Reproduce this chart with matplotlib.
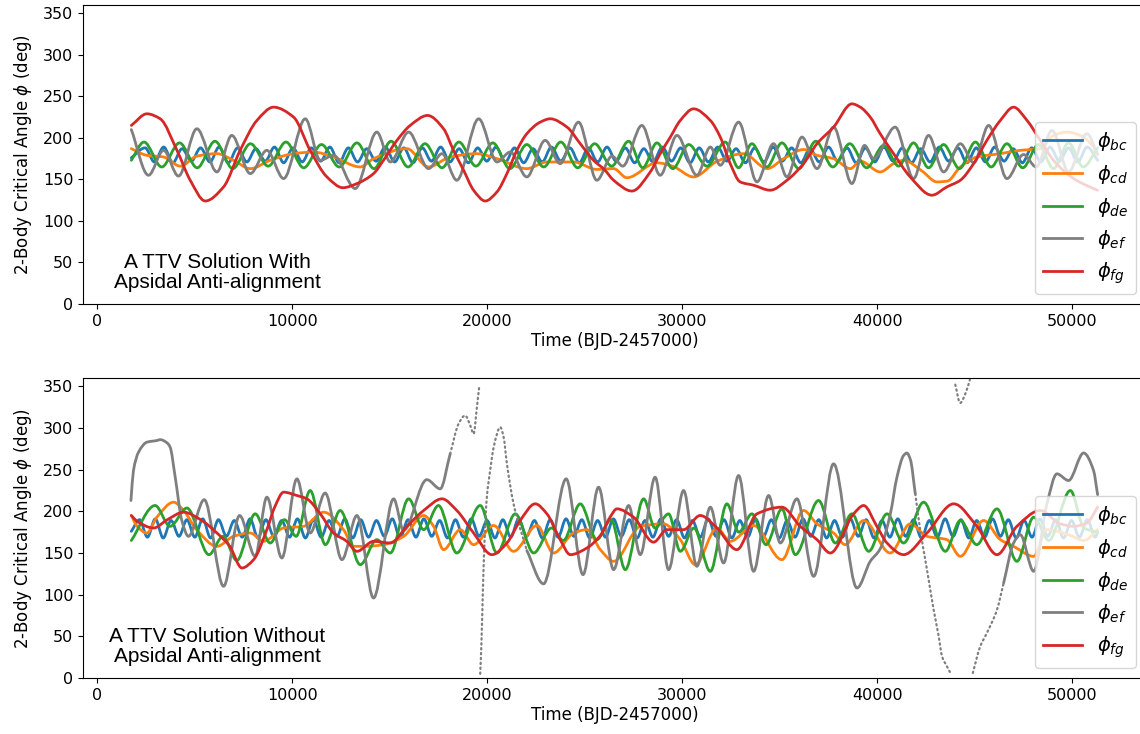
import numpy as np
import matplotlib.pyplot as plt
from matplotlib.path import Path
from matplotlib.patches import PathPatch
from matplotlib.lines import Line2D

# ---------------- TOP PANEL (with apsidal anti-alignment) ----------------
top_t_bc = [1750,
    2460, 2930, 3410, 3880, 4350, 4830, 5300, 5780, 6250, 6720,
    7200, 7670, 8140, 8620, 9090, 9560, 10040, 10510, 10980, 11460,
    11930, 12400, 12880, 13350, 13820, 14300, 14770, 15250, 15720, 16190,
    16670, 17140, 17610, 18090, 18560, 19030, 19510, 19980, 20450, 20930,
    21400, 21870, 22350, 22820, 23290, 23770, 24240, 24720, 25190, 25660,
    26140, 26610, 27080, 27560, 28030, 28500, 28980, 29450, 29920, 30400,
    30870, 31340, 31820, 32290, 32760, 33240, 33710, 34190, 34660, 35130,
    35610, 36080, 36550, 37030, 37500, 37970, 38450, 38920, 39390, 39870,
    40340, 40810, 41290, 41760, 42230, 42710, 43180, 43660, 44130, 44600,
    45080, 45550, 46020, 46500, 46970, 47440, 47920, 48390, 48860, 49340,
    49810, 50280, 50760, 51300]
top_bc = [176,
    188, 171, 189, 170, 187, 172, 188, 171, 189, 170,
    188, 171, 187, 172, 189, 170, 188, 171, 188, 172,
    189, 170, 188, 171, 187, 172, 189, 171, 188, 170,
    188, 172, 189, 171, 187, 170, 188, 172, 189, 171,
    188, 170, 187, 171, 189, 172, 188, 170, 188, 171,
    189, 172, 188, 170, 187, 171, 189, 172, 188, 170,
    188, 171, 189, 172, 187, 170, 188, 171, 189, 172,
    188, 170, 187, 171, 189, 172, 188, 170, 188, 171,
    189, 172, 188, 170, 187, 171, 189, 172, 188, 170,
    188, 171, 189, 172, 187, 170, 188, 171, 189, 172,
    188, 171, 189, 173]

top_t_cd = [1750, 2550, 3400, 4260, 5110, 6140, 6990, 7850, 8870, 10070, 11090, 12120,
            13490, 14170, 15880, 16990, 18100, 19470, 20500, 22030, 23060, 24430, 25620,
            26480, 27160, 28700, 29500, 30580, 31800, 33140, 34360, 35200, 36220, 36910,
            37760, 38620, 39130, 40150, 40840, 41350, 42300, 43060, 43600, 44260, 45110,
            46310, 47330, 48360, 49040, 49730, 50410, 51090, 51300]
top_cd = [187, 179, 177, 166, 178, 181, 173, 163, 173, 181, 183, 177,
          165, 175, 187, 165, 177, 181, 175, 163, 171, 171, 162,
          163, 152, 170, 166, 153, 172, 181, 163, 175, 186, 179,
          175, 163, 172, 159, 169, 173, 160, 147, 148, 165, 177,
          181, 185, 187, 203, 207, 203, 189, 180]

top_t_de = [1750,
    2400, 3310, 4220, 5130, 6040, 6950, 7860, 8770, 9680, 10590,
    11500, 12410, 13320, 14195, 15070, 15940, 16810, 17680, 18550, 19420,
    20290, 21160, 22030, 22900, 23770, 24640, 25510, 26380, 27250, 27975,
    28700, 29515, 30330, 31265, 32200, 32885, 33570, 34340, 35110, 35980,
    36850, 37720, 38590, 39460, 40330, 41095, 41860, 42630, 43400, 44215,
    45030, 45840, 46650, 47460, 48270, 49040, 49810, 50560, 51300]
top_de = [173,
    195, 165, 194, 164, 196, 163, 193, 166, 195, 164,
    192, 165, 194, 163, 196, 165, 193, 164, 195, 166,
    194, 163, 192, 165, 195, 164, 193, 166, 196, 164,
    194, 163, 192, 166, 195, 164, 193, 165, 194, 163,
    196, 165, 193, 164, 191, 166, 194, 164, 192, 163,
    195, 165, 193, 164, 192, 163, 194, 165, 188]

top_t_ef = [1750, 2630, 3400, 4170, 5110, 6140, 6900, 7850, 8700, 9560,
            10670, 11440, 12120, 13230, 14340, 15030, 15970, 16990, 17680, 18440,
            19560, 20500, 21180, 22030, 22970, 23740, 24680, 25620, 26400, 26950,
            27930, 28870, 29730, 30750, 31440, 31950, 32890, 33830, 34680, 35370,
            36140, 36910, 37760, 38700, 39350, 39810, 40920, 41860, 42630, 43400,
            44260, 44950, 45710, 46650, 47500, 48150, 48960, 49810, 50750, 51300]
top_ef = [210, 155, 185, 154, 211, 159, 203, 157, 185, 151,
          223, 173, 179, 139, 207, 171, 207, 163, 181, 149,
          223, 171, 183, 153, 197, 169, 219, 149, 178, 166,
          215, 155, 203, 155, 189, 167, 219, 147, 193, 153,
          201, 163, 213, 145, 191, 175, 213, 151, 203, 159,
          193, 170, 215, 151, 180, 165, 209, 159, 205, 180]

top_t_fg = [1750, 2550, 3230, 4090, 4770, 5540, 6480, 7330, 8190, 9040,
            10070, 10920, 11780, 12600, 13320, 14170, 14680, 15370, 16050, 16940,
            17760, 18270, 18790, 19300, 19900, 20500, 21010, 21520, 22030, 22720,
            23230, 24090, 24770, 25450, 26000, 26480, 27420, 28360, 28870, 29390,
            29900, 30580, 31440, 31950, 32460, 32970, 33660, 34510, 35370, 36220,
            36910, 37760, 38700, 39130, 39640, 40150, 40840, 41690, 42800, 43570,
            44260, 44940, 45620, 46310, 46990, 47680, 48360, 49040, 50070, 51090, 51300]
top_fg = [215, 229, 223, 185, 149, 124, 141, 185, 221, 237,
          225, 185, 153, 140, 145, 157, 173, 197, 215, 227,
          211, 185, 161, 137, 124, 135, 157, 185, 205, 219,
          223, 213, 193, 173, 162, 149, 136, 159, 181, 201,
          221, 235, 221, 201, 169, 147, 143, 137, 149, 169,
          193, 213, 241, 237, 225, 205, 181, 153, 131, 141,
          149, 169, 197, 221, 237, 221, 197, 173, 151, 139, 137]

# ---------------- BOTTOM PANEL (without apsidal anti-alignment) ----------------
bot_t_bc = [1750,
    2170, 2575, 2980, 3385, 3790, 4195, 4600, 5005, 5410, 5815,
    6220, 6625, 7030, 7435, 7840, 8245, 8650, 9055, 9460, 9865,
    10270, 10675, 11080, 11485, 11890, 12295, 12700, 13105, 13510, 13915,
    14320, 14725, 15130, 15535, 15940, 16345, 16750, 17155, 17560, 17965,
    18370, 18775, 19180, 19585, 19990, 20395, 20800, 21205, 21610, 22015,
    22420, 22825, 23230, 23635, 24040, 24445, 24850, 25255, 25660, 26065,
    26470, 26875, 27280, 27685, 28090, 28495, 28900, 29305, 29710, 30115,
    30520, 30925, 31330, 31735, 32140, 32545, 32950, 33355, 33760, 34165,
    34570, 34975, 35380, 35785, 36190, 36595, 37000, 37405, 37810, 38215,
    38620, 39025, 39430, 39835, 40240, 40645, 41050, 41455, 41860, 42265,
    42670, 43075, 43480, 43885, 44290, 44695, 45100, 45505, 45910, 46315,
    46720, 47125, 47530, 47935, 48340, 48745, 49150, 49555, 49960, 50365,
    50770, 51175, 51300]
bot_bc = [176,
    190, 169, 191, 168, 189, 170, 190, 169, 191, 168,
    190, 170, 189, 169, 191, 168, 190, 170, 189, 169,
    191, 168, 190, 169, 189, 170, 191, 168, 190, 169,
    189, 170, 191, 168, 190, 169, 191, 170, 189, 168,
    190, 169, 191, 170, 189, 168, 190, 169, 191, 170,
    189, 168, 190, 169, 191, 170, 190, 168, 189, 169,
    191, 170, 190, 168, 189, 169, 191, 170, 190, 168,
    189, 169, 191, 170, 190, 168, 189, 169, 191, 170,
    190, 168, 189, 169, 191, 170, 190, 168, 189, 169,
    191, 170, 190, 168, 189, 169, 191, 170, 190, 168,
    189, 169, 191, 170, 190, 168, 189, 169, 191, 170,
    190, 168, 189, 169, 191, 170, 190, 168, 189, 169,
    190, 169, 175]

bot_t_cd = [1750, 2050, 2550, 3060, 3920, 4430, 5100, 6140, 6990, 7850,
            8530, 9560, 10580, 11610, 12630, 13150, 13830, 14680, 15710, 16740,
            17250, 17760, 18620, 19300, 20330, 21350, 22550, 23400, 24430, 25110,
            25800, 26480, 27850, 29040, 29900, 30670, 31780, 32460, 33660, 35110,
            36220, 36910, 37760, 38360, 39300, 40670, 41690, 42550, 43570, 44260,
            45450, 46310, 46990, 48020, 48700, 49800, 50600, 51300]
bot_cd = [195, 182, 174, 193, 211, 201, 178, 158, 170, 174,
          164, 180, 182, 199, 178, 158, 158, 160, 170, 195,
          182, 154, 178, 160, 183, 152, 183, 150, 174, 178,
          154, 140, 182, 185, 166, 136, 180, 164, 183, 142,
          201, 185, 174, 160, 189, 150, 185, 170, 166, 146,
          189, 166, 158, 146, 178, 172, 165, 178]

bot_t_de = [1750, 2970, 3740, 4600, 5730, 6450, 7160, 8100, 8870, 9600,
            10200, 10920, 11700, 12460, 13490, 14340, 15030, 15970, 16740, 17500,
            18440, 19640, 20500, 21440, 22380, 23300, 23900, 24770, 25620, 26350,
            27080, 28020, 28600, 29300, 29900, 30600, 31440, 32290, 32900, 33570,
            34300, 35110, 35800, 36990, 37850, 38700, 39560, 40500, 41350, 42380,
            43490, 44260, 45100, 46140, 47160, 48020, 48800, 49900, 50600, 51300]
bot_de = [165, 207, 182, 204, 148, 170, 141, 197, 162, 190,
          170, 225, 160, 201, 136, 166, 150, 215, 178, 207,
          150, 207, 150, 197, 150, 180, 165, 209, 166, 190,
          130, 215, 180, 197, 152, 180, 128, 209, 175, 197,
          160, 203, 148, 213, 162, 197, 152, 197, 162, 211,
          152, 189, 160, 203, 140, 193, 165, 225, 180, 175]

bot_t_ef = [1730, 1860, 2120, 2550, 3060, 3230, 3590, 3740, 4000, 4340,
            4680, 5490, 6480, 7300, 8100, 8700, 9470, 10240, 10920, 11690,
            12550, 13320, 14170, 15200, 15710, 16900, 17590, 18100, 18530, 18870,
            19130, 19300, 19470, 19600, 19640, 19700, 19760, 19830, 19980, 20150,
            20330, 20670, 20840, 21010, 21350, 22030, 22890, 24050, 24910, 25710,
            26480, 27250, 27850, 28610, 29300, 30070, 30750, 31440, 32120, 32890,
            33660, 34430, 35030, 35880, 36740, 37760, 38960, 39640, 40150, 40670,
            41010, 41350, 41520, 41700, 41950, 42200, 42550, 42890, 43150, 43320,
            43570, 43800, 44000, 44250, 44500, 44750, 44900, 45280, 45620, 46140,
            46480, 46990, 47330, 48020, 48700, 49210, 49810, 50580, 51090, 51300]
bot_ef = [213, 249, 271, 283, 285, 286, 282, 277, 241, 189,
          170, 214, 110, 195, 146, 217, 144, 239, 174, 222,
          142, 195, 96, 215, 177, 238, 227, 269, 305, 315,
          303, 293, 325, 352, 5, 40, 90, 145, 217, 249,
          277, 301, 289, 257, 209, 153, 113, 239, 124, 229,
          130, 207, 148, 241, 130, 225, 134, 205, 138, 243,
          128, 219, 162, 215, 122, 257, 108, 140, 155, 197,
          241, 267, 270, 262, 221, 178, 130, 82, 50, 26,
          14, 4, 352, 330, 340, 358, 6, 38, 54, 82,
          114, 162, 172, 128, 209, 245, 237, 270, 249, 220]

bot_t_fg = [1750, 2050, 2890, 3600, 4430, 5300, 6140, 6800, 7420, 8020,
            8700, 9100, 9560, 10240, 10750, 11440, 12120, 12800, 13320, 14170,
            15030, 15880, 16740, 17680, 18440, 19300, 20240, 21010, 21690, 22460,
            23060, 23740, 24260, 25110, 25800, 26300, 26650, 27500, 28530, 29210,
            30070, 30920, 31780, 32800, 33830, 35110, 36050, 36910, 37590, 38790,
            39300, 39980, 40500, 41350, 42550, 43920, 45110, 46140, 47160, 48360,
            49390, 50070, 50750, 51300]
bot_fg = [195, 188, 180, 190, 199, 190, 174, 158, 132, 142,
          178, 205, 223, 219, 215, 197, 174, 164, 152, 164,
          162, 182, 201, 215, 201, 174, 148, 162, 189, 209,
          197, 166, 148, 156, 171, 193, 203, 193, 163, 178,
          178, 195, 180, 154, 197, 205, 182, 166, 150, 197,
          207, 182, 162, 148, 174, 209, 182, 148, 182, 201,
          185, 182, 186, 205]

labels = [r'$\phi_{bc}$', r'$\phi_{cd}$', r'$\phi_{de}$', r'$\phi_{ef}$', r'$\phi_{fg}$']
colors = ['tab:blue', 'tab:orange', 'tab:green', 'tab:gray', 'tab:red']
x_ticks = [0, 10000, 20000, 30000, 40000, 50000]
y_ticks = [0, 50, 100, 150, 200, 250, 300, 350]
texts = ['A TTV Solution With\nApsidal Anti-alignment',
         'A TTV Solution Without\nApsidal Anti-alignment']

W, H = 1140, 734
fig = plt.figure(figsize=(W / 100, H / 100), dpi=100)


def px_axes(x0, y0, x1, y1):
    return fig.add_axes([x0 / W, 1 - y1 / H, (x1 - x0) / W, (y1 - y0) / H])


ax_top = px_axes(83, 5, 1146, 304)
ax_bot = px_axes(83, 378, 1146, 678)

LW = 2.0


def smooth_path(t, y):
    """Monotone cubic (Fritsch-Carlson) Bezier path through the read points."""
    x = np.asarray(t, float); v = np.asarray(y, float)
    n = len(x)
    if n < 2:
        return None
    h = np.diff(x); d = np.diff(v) / h
    m = np.zeros(n)
    m[0] = d[0]; m[-1] = d[-1]
    for i in range(1, n - 1):
        if d[i - 1] * d[i] > 0:
            w1 = 2 * h[i] + h[i - 1]; w2 = h[i] + 2 * h[i - 1]
            m[i] = (w1 + w2) / (w1 / d[i - 1] + w2 / d[i])
    verts = [(x[0], v[0])]; codes = [Path.MOVETO]
    for i in range(n - 1):
        verts += [(x[i] + h[i] / 3, v[i] + m[i] * h[i] / 3),
                  (x[i + 1] - h[i] / 3, v[i + 1] - m[i + 1] * h[i] / 3),
                  (x[i + 1], v[i + 1])]
        codes += [Path.CURVE4] * 3
    return Path(verts, codes)


def draw_curve(ax, t, y, color, lw=LW, ls='-', z=2):
    p = smooth_path(t, y)
    if p is None:
        return
    ax.add_patch(PathPatch(p, fill=False, edgecolor=color, lw=lw, linestyle=ls,
                           joinstyle='round', capstyle='round', zorder=z))


def draw_wrapped(ax, t, y, color, windows):
    """Draw series, breaking at 0/360 wraps; sparse steep parts dotted."""
    t = list(t); y = list(y)
    runs = []
    cur_t, cur_y, cur_d = [t[0]], [y[0]], None
    for i in range(len(t) - 1):
        mid = 0.5 * (t[i] + t[i + 1])
        d = any(a <= mid <= b for a, b in windows)
        if abs(y[i + 1] - y[i]) > 180:
            runs.append((cur_t, cur_y, bool(cur_d)))
            cur_t, cur_y, cur_d = [t[i + 1]], [y[i + 1]], None
            continue
        if cur_d is None or d == cur_d:
            cur_d = d
            cur_t.append(t[i + 1]); cur_y.append(y[i + 1])
        else:
            runs.append((cur_t, cur_y, cur_d))
            cur_t, cur_y, cur_d = [t[i], t[i + 1]], [y[i], y[i + 1]], d
    runs.append((cur_t, cur_y, bool(cur_d)))
    for rt, ry, dotted in runs:
        if dotted:
            draw_curve(ax, rt, ry, color, lw=1.6, ls=(0, (0.6, 1.6)))
        else:
            draw_curve(ax, rt, ry, color)


top_series = [(top_t_bc, top_bc), (top_t_cd, top_cd), (top_t_de, top_de),
              (top_t_ef, top_ef), (top_t_fg, top_fg)]
bot_series = [(bot_t_bc, bot_bc), (bot_t_cd, bot_cd), (bot_t_de, bot_de),
              (bot_t_ef, bot_ef), (bot_t_fg, bot_fg)]

for ax, series, txt in [(ax_top, top_series, texts[0]), (ax_bot, bot_series, texts[1])]:
    handles = []
    for (t, y), c, lab in zip(series, colors, labels):
        if ax is ax_bot and lab == labels[3]:
            draw_wrapped(ax, t, y, c, [(18100, 22100), (41900, 46700)])
        else:
            draw_curve(ax, t, y, c)
        handles.append(Line2D([], [], color=c, lw=LW, label=lab))
    ax.set_xlim(-728, 53780)
    ax.set_ylim(0, 360)
    ax.set_xticks(x_ticks)
    ax.set_yticks(y_ticks)
    ax.tick_params(labelsize=11.5)
    ax.set_xlabel('Time (BJD-2457000)', fontsize=12, labelpad=2)
    ax.set_ylabel(r'2-Body Critical Angle $\phi$ (deg)', fontsize=12, labelpad=6)
    ax.legend(handles=handles, loc='lower right', fontsize=14)
    ax.text(6150, 38, txt, ha='center', va='center', fontsize=15,
            family=['Liberation Sans', 'DejaVu Sans'], linespacing=1.1)

fig.savefig('out.png', dpi=100)
